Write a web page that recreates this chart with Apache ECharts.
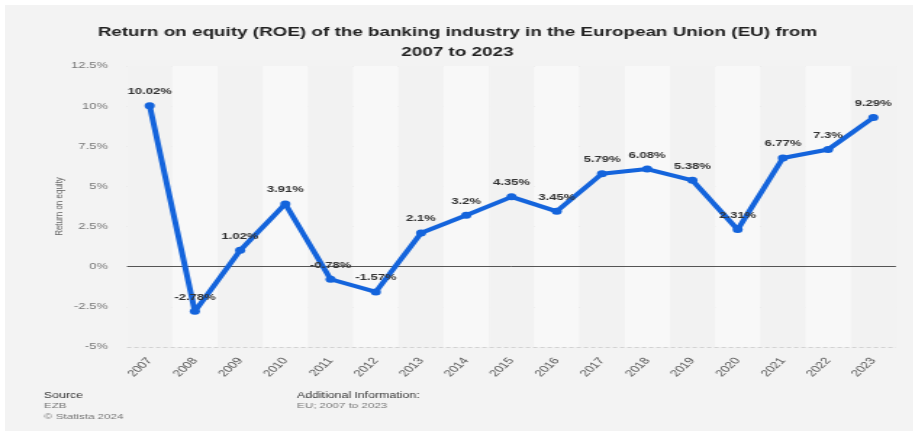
<!DOCTYPE html>
<html>
<head>
<meta charset="utf-8">
<script src="https://cdn.jsdelivr.net/npm/echarts@6/dist/echarts.min.js"></script>
<style>
  html, body { margin: 0; padding: 0; background: #ffffff; overflow: hidden; }
  #wrap { position: absolute; left: 5px; top: 5px; width: 908px; height: 426px; background: #f3f3f3; }
  /* the chart is laid out on a narrower canvas and widened to the full page */
  #chart { position: absolute; left: 0; top: 0; width: 631px; height: 434px;
           transform: scaleX(1.45); transform-origin: 0 0; }
</style>
</head>
<body>
<div id="wrap"></div>
<div id="chart"></div>
<script>
// Return on equity of EU banks, per year (percent)
const years = ['2007','2008','2009','2010','2011','2012','2013','2014','2015','2016','2017','2018','2019','2020','2021','2022','2023'];
const roe = [10.02, -2.78, 1.02, 3.91, -0.78, -1.57, 2.1, 3.2, 4.35, 3.45, 5.79, 6.08, 5.38, 2.31, 6.77, 7.3, 9.29];

const font = '"Liberation Sans", Arial, sans-serif';
const chart = echarts.init(document.getElementById('chart'), null, { renderer: 'canvas' });

chart.setOption({
  backgroundColor: 'transparent',
  animation: false,
  title: {
    text: 'Return on equity (ROE) of the banking industry in the European Union (EU) from\n2007 to 2023',
    left: 'center',
    top: 17,
    textStyle: { fontFamily: font, fontSize: 13, fontWeight: 'bold', color: '#222', lineHeight: 20 }
  },
  grid: { left: 87.6, right: 13.1, top: 66, bottom: 87 },
  xAxis: {
    type: 'category',
    data: years,
    boundaryGap: true,
    axisLine: { show: false },
    axisTick: { show: false },
    axisLabel: { rotate: 52, fontFamily: font, fontSize: 9.5, color: '#555', margin: 12 },
    splitArea: { show: true, areaStyle: { color: ['#f2f2f2', '#f8f8f8'] } }
  },
  yAxis: {
    type: 'value',
    min: -5,
    max: 12.5,
    interval: 2.5,
    name: 'Return on equity',
    nameLocation: 'middle',
    nameGap: 43,
    nameMoveOverlap: false,
    nameTextStyle: { fontFamily: font, fontSize: 8, color: '#666' },
    axisLine: { show: false },
    axisTick: { show: false },
    axisLabel: { fontFamily: font, fontSize: 9, color: '#777', margin: 13, formatter: v => v + '%' },
    splitLine: { lineStyle: { color: '#d2d2d2', type: [3, 2], width: 1 } }
  },
  series: [{
    type: 'line',
    data: roe,
    symbol: 'circle',
    symbolSize: 7,
    lineStyle: { color: '#1464dc', width: 4 },
    itemStyle: { color: '#1464dc' },
    label: {
      show: true,
      position: 'top',
      distance: 6,
      fontFamily: font,
      fontSize: 9,
      fontWeight: 'bold',
      color: '#333',
      formatter: p => p.value + '%'
    },
    markLine: {
      silent: true,
      symbol: 'none',
      label: { show: false },
      lineStyle: { color: '#555', type: 'solid', width: 1 },
      data: [{ yAxis: 0 }],
      z: 1
    },
    z: 3
  }],
  graphic: [
    { type: 'text', left: 30.3, top: 391, style: { text: 'Source', fontFamily: font, fontSize: 8.5, fill: '#333' } },
    { type: 'text', left: 30.3, top: 402, style: { text: 'EZB', fontFamily: font, fontSize: 8, fill: '#777' } },
    { type: 'text', left: 30.3, top: 413, style: { text: '© Statista 2024', fontFamily: font, fontSize: 8, fill: '#777' } },
    { type: 'text', left: 204.8, top: 391, style: { text: 'Additional Information:', fontFamily: font, fontSize: 8.5, fill: '#333' } },
    { type: 'text', left: 204.8, top: 402, style: { text: 'EU; 2007 to 2023', fontFamily: font, fontSize: 8, fill: '#777' } }
  ]
});
</script>
</body>
</html>
